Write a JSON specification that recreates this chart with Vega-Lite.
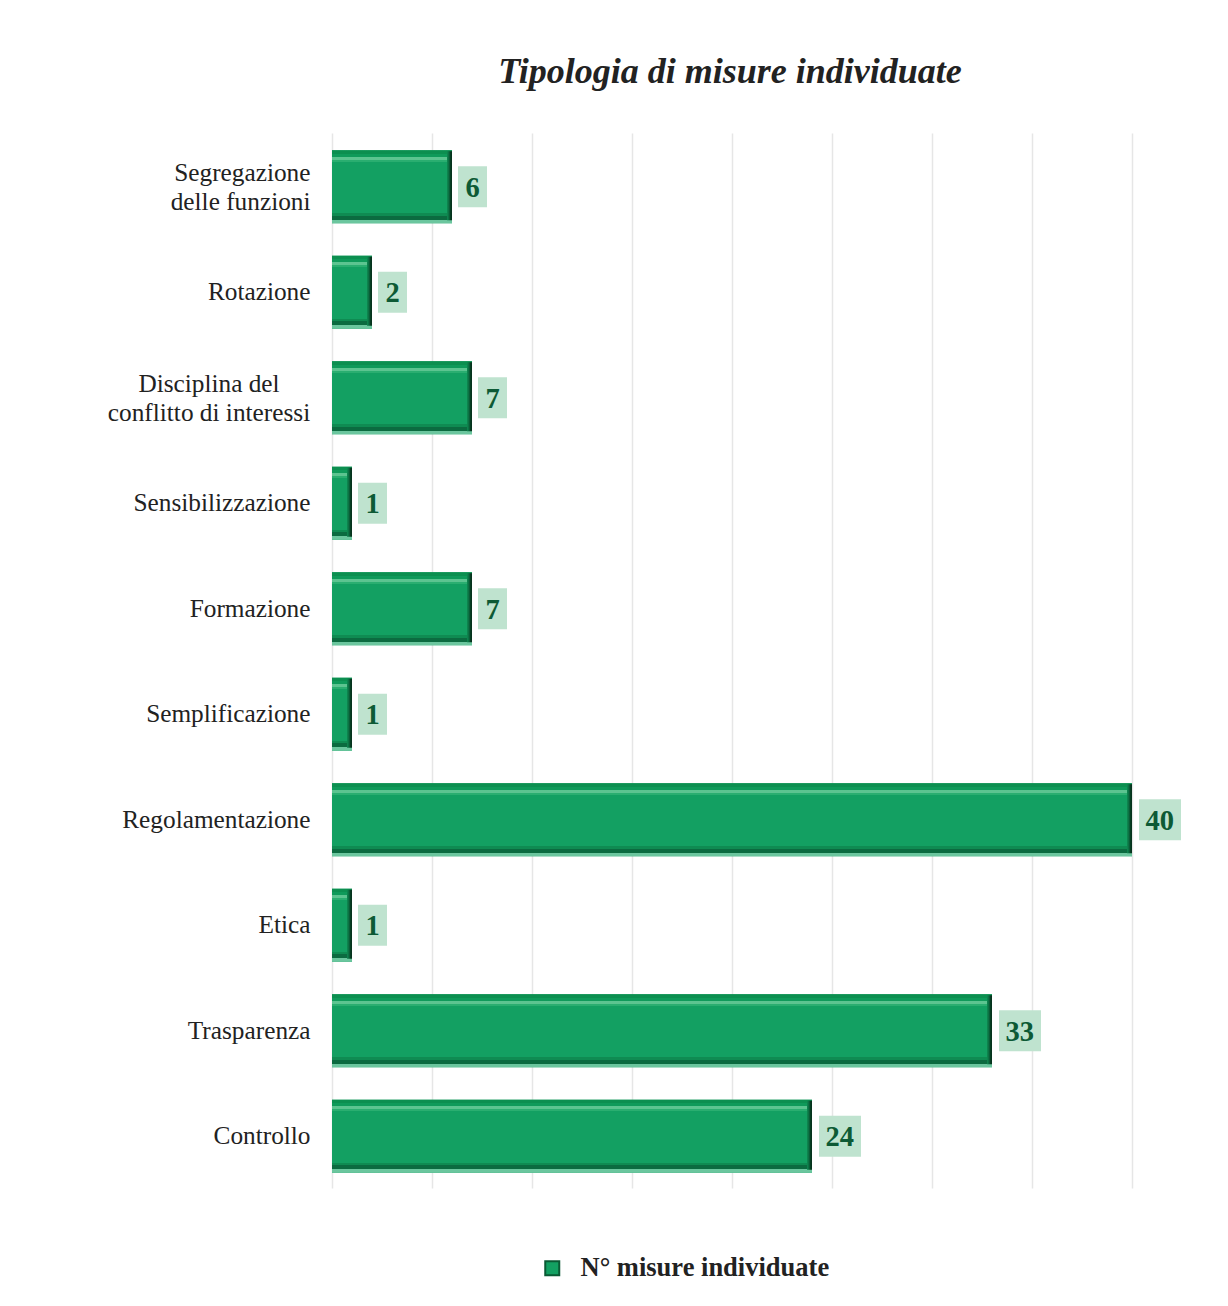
{
  "$schema": "https://vega.github.io/schema/vega-lite/v6.json",
  "autosize": "none",
  "width": 800,
  "height": 1055,
  "padding": {"left": 332, "top": 133, "right": 96, "bottom": 118},
  "background": "white",
  "title": {
    "text": "Tipologia di misure individuate",
    "font": "Liberation Serif",
    "fontSize": 36,
    "fontWeight": "bold",
    "fontStyle": "italic",
    "color": "#222222",
    "anchor": "middle",
    "baseline": "alphabetic",
    "offset": 14,
    "dx": -2
  },
  "data": {
    "values": [
      {"misura": "Segregazione delle funzioni", "n": 6},
      {"misura": "Rotazione", "n": 2},
      {"misura": "Disciplina del conflitto di interessi", "n": 7},
      {"misura": "Sensibilizzazione", "n": 1},
      {"misura": "Formazione", "n": 7},
      {"misura": "Semplificazione", "n": 1},
      {"misura": "Regolamentazione", "n": 40},
      {"misura": "Etica", "n": 1},
      {"misura": "Trasparenza", "n": 33},
      {"misura": "Controllo", "n": 24}
    ]
  },
  "encoding": {
    "y": {
      "field": "misura",
      "type": "nominal",
      "sort": null,
      "title": null,
      "scale": {"paddingInner": 0.31, "paddingOuter": 0.155},
      "axis": {
        "domain": false,
        "ticks": false,
        "grid": false,
        "labelFont": "Liberation Serif",
        "labelFontSize": 25.3,
        "labelColor": "#222222",
        "labelLineHeight": 29,
        "labelLimit": 400,
        "labelPadding": {"condition": {"test": "datum.value == 'Disciplina del conflitto di interessi'", "value": 123.5}, "value": 22},
        "labelAlign": {"condition": {"test": "datum.value == 'Disciplina del conflitto di interessi'", "value": "center"}, "value": "right"},
        "labelOffset": {"condition": {"test": "datum.value == 'Disciplina del conflitto di interessi' || datum.value == 'Segregazione delle funzioni'", "value": -13}, "value": 1},
        "labelExpr": "datum.value == 'Segregazione delle funzioni' ? ['Segregazione', 'delle funzioni'] : datum.value == 'Disciplina del conflitto di interessi' ? ['Disciplina del', 'conflitto di interessi'] : datum.value"
      }
    }
  },
  "layer": [
    {
      "mark": {"type": "bar", "height": 73, "yOffset": 1},
      "encoding": {
        "x": {
          "field": "n",
          "type": "quantitative",
          "title": null,
          "scale": {"domain": [0, 40], "nice": false},
          "axis": {
            "values": [0, 5, 10, 15, 20, 25, 30, 35, 40],
            "labels": false,
            "ticks": false,
            "domain": false,
            "grid": true,
            "gridColor": "#e6e6e6",
            "gridWidth": 1.5
          }
        },
        "color": {
          "datum": "N° misure individuate",
          "type": "nominal",
          "scale": {"range": ["#13a062"]},
          "legend": {
            "title": null,
            "orient": "none",
            "legendX": 207,
            "legendY": 1122,
            "padding": 0,
            "symbolType": "square",
            "symbolSize": 196,
            "symbolStrokeColor": "#0a5a34",
            "symbolStrokeWidth": 2,
            "symbolOpacity": 1,
            "labelFont": "Liberation Serif",
            "labelFontSize": 26.5,
            "labelFontWeight": "bold",
            "labelColor": "#222222",
            "labelOffset": 15,
            "labelLimit": 500
          }
        }
      }
    },
    {
      "mark": {
        "type": "bar",
        "height": 73,
        "yOffset": 1,
        "fill": {
          "gradient": "linear",
          "x1": 0, "y1": 0, "x2": 0, "y2": 1,
          "stops": [
            {"offset": 0, "color": "#0c8f50"},
            {"offset": 0.05, "color": "#0c8f50"},
            {"offset": 0.05, "color": "#0f9a5a"},
            {"offset": 0.09, "color": "#0f9a5a"},
            {"offset": 0.09, "color": "#5cc490"},
            {"offset": 0.13, "color": "#5cc490"},
            {"offset": 0.13, "color": "#2aae70"},
            {"offset": 0.16, "color": "#2aae70"},
            {"offset": 0.16, "color": "#13a062"},
            {"offset": 0.86, "color": "#13a062"},
            {"offset": 0.86, "color": "#0f8b52"},
            {"offset": 0.9, "color": "#0f8b52"},
            {"offset": 0.9, "color": "#0b6b40"},
            {"offset": 0.95, "color": "#0b6b40"},
            {"offset": 0.95, "color": "#6bc69e"},
            {"offset": 1, "color": "#6bc69e"}
          ]
        }
      },
      "encoding": {
        "x": {"field": "n", "type": "quantitative"}
      }
    },
    {
      "mark": {
        "type": "bar",
        "height": 69,
        "yOffset": 0,
        "xOffset": -5,
        "fill": {
          "gradient": "linear",
          "x1": 0, "y1": 0, "x2": 1, "y2": 0,
          "stops": [
            {"offset": 0, "color": "#0f8b52"},
            {"offset": 0.4, "color": "#0b6b40"},
            {"offset": 0.7, "color": "#073d22"},
            {"offset": 1, "color": "#062e1b"}
          ]
        }
      },
      "encoding": {
        "x": {"field": "n", "type": "quantitative"},
        "x2": {"field": "n"}
      }
    },
    {
      "transform": [{"filter": "datum.n < 10"}],
      "mark": {"type": "bar", "height": 41, "yOffset": 1, "xOffset": 6, "x2Offset": 35, "fill": "#bfe3cf"},
      "encoding": {
        "x": {"field": "n", "type": "quantitative"},
        "x2": {"field": "n"}
      }
    },
    {
      "transform": [{"filter": "datum.n >= 10"}],
      "mark": {"type": "bar", "height": 41, "yOffset": 1, "xOffset": 7, "x2Offset": 49, "fill": "#bfe3cf"},
      "encoding": {
        "x": {"field": "n", "type": "quantitative"},
        "x2": {"field": "n"}
      }
    },
    {
      "mark": {
        "type": "text",
        "align": "left",
        "baseline": "middle",
        "dx": 13.5,
        "dy": 2,
        "font": "Liberation Serif",
        "fontSize": 28.5,
        "fontWeight": "bold",
        "fill": "#0d5a35"
      },
      "encoding": {
        "x": {"field": "n", "type": "quantitative"},
        "text": {"field": "n", "type": "quantitative"}
      }
    }
  ],
  "config": {
    "view": {"stroke": null}
  }
}
